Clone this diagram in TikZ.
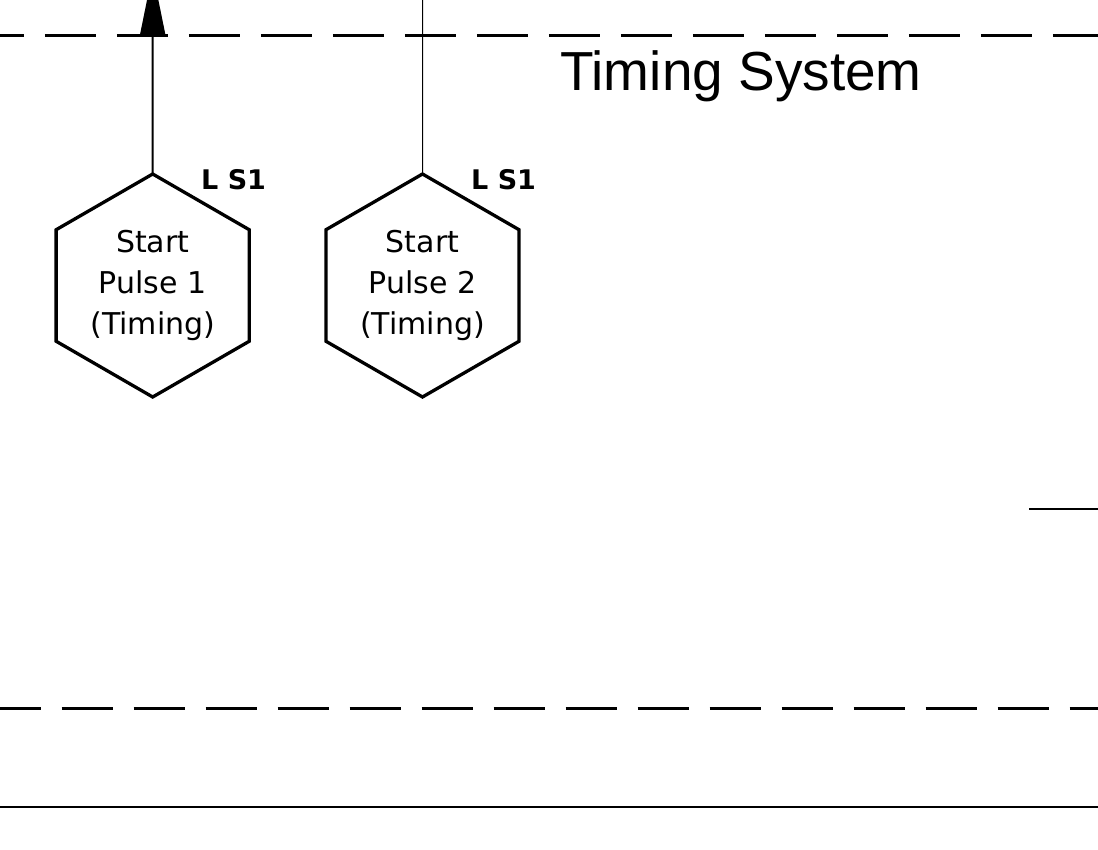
\documentclass[tikz,border=0pt]{standalone}
\usepackage{fontspec}
\setmainfont{Liberation Sans}
\newfontfamily\hexfont{DejaVu Sans}
\usetikzlibrary{shapes.geometric,arrows.meta}
\begin{document}
\begin{tikzpicture}[x=1pt,y=-1pt,
  hexa/.style={draw,line width=3.3pt,regular polygon,regular polygon sides=6,
    shape border rotate=30,minimum size=223pt,inner sep=0pt,outer sep=0pt,
    align=center,font=\hexfont\fontsize{30}{41}\selectfont},
  tag/.style={anchor=base west,inner sep=0pt,font=\hexfont\bfseries\fontsize{27}{32}\selectfont},
  bigdash/.style={line width=3pt,dash pattern=on 51pt off 21pt},
  thinrule/.style={line width=2pt}]
\useasboundingbox (0,0) rectangle (1098,850);
% region boundaries
\coordinate (tl) at (0,36);  \coordinate (tr) at (1098,36);
\coordinate (bl) at (0,708.5); \coordinate (br) at (1098,708.5);
\coordinate (sl) at (0,806.7); \coordinate (sr) at (1098,806.7);
\draw[bigdash,dash phase=27.1pt] (tl) -- (tr);
\draw[bigdash,dash phase=10.4pt] (bl) -- (br);
\draw[thinrule] (sl) -- (sr);
\coordinate (rs) at (1029,509); \coordinate (re) at (1098,509);
\draw[thinrule] (rs) -- (re);
% title
\node[anchor=base west,inner sep=0pt,font=\fontsize{55}{60}\selectfont] (title) at (560,90.9) {Timing System};
% hexagons
\node[hexa] (h1) at (152.7,285.5) {Start\\Pulse 1\\(Timing)};
\node[hexa] (h2) at (422.5,285.5) {Start\\Pulse 2\\(Timing)};
\node[tag] (l1) at (201,189.5) {L S1};
\node[tag] (l2) at (471,189.5) {L S1};
% connectors
\coordinate (up1) at (152.7,-28);
\coordinate (up2) at (422.5,-5);
\draw[line width=2pt,-{Triangle[length=63pt,width=25pt]}] (h1.north) -- (up1);
\draw[line width=1pt] (h2.north) -- (up2);
\end{tikzpicture}
\end{document}
